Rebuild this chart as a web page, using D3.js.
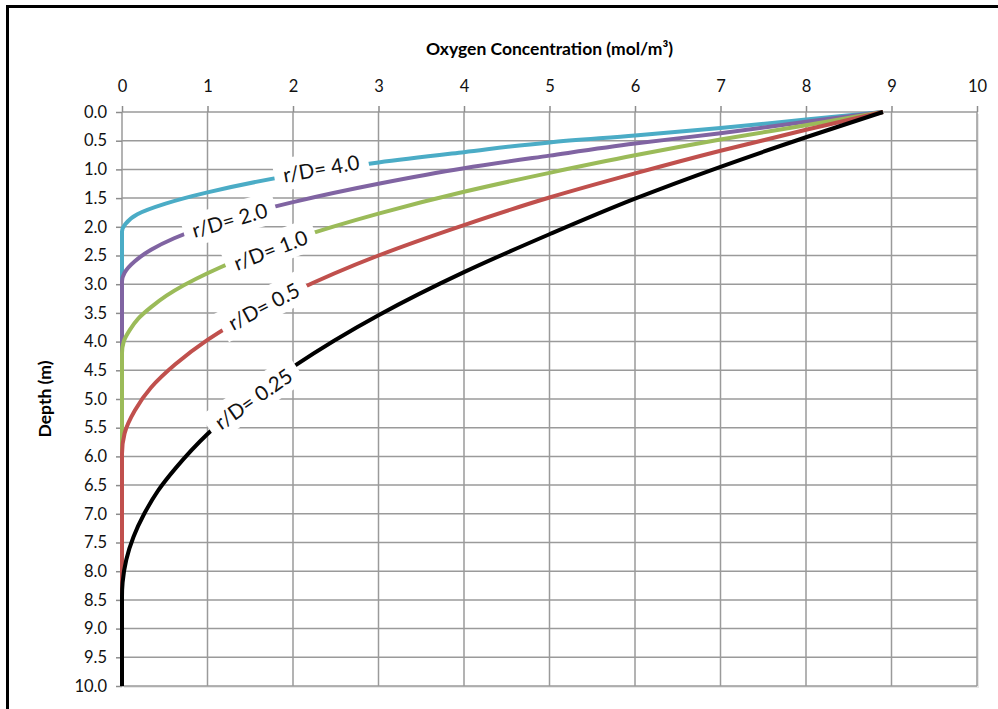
<!DOCTYPE html>
<html>
    <head>
        <meta charset="utf-8">
        <title>Oxygen profiles</title>
        <style>
body {
    margin: 0;
    background-color: white;
    font-family: 'Lato', sans-serif;
}

.grid line {
    stroke: #9a9a9a;
    stroke-width: 1.5;
}

.axis path {
    display: none;
}

.axis line {
    stroke: #8c8c8c;
    stroke-width: 1.5;
}

.axis text {
    font-family: 'Lato', sans-serif;
    font-size: 16.5px;
    fill: #111;
}

.curve {
    fill: none;
    stroke-width: 4;
}

.curveLabel text {
    font-size: 20.5px;
    fill: #111;
}

</style>
        <script src="https://cdn.jsdelivr.net/npm/d3@7"></script>
    </head>
    <body>
        <script>
// ticks
var concTicks = [0, 1, 2, 3, 4, 5, 6, 7, 8, 9, 10];
var depthTicks = [0.0, 0.5, 1.0, 1.5, 2.0, 2.5, 3.0, 3.5, 4.0, 4.5, 5.0,
                  5.5, 6.0, 6.5, 7.0, 7.5, 8.0, 8.5, 9.0, 9.5, 10.0];

// curves: depth (m) and oxygen (mol/m3)
var names = ["r/D= 4.0", "r/D= 2.0", "r/D= 1.0", "r/D= 0.5", "r/D= 0.25"];
var colors = ["#4bacc6", "#8064a2", "#9bbb59", "#c0504d", "#000000"];

var depth40 = [0, 0.13, 0.28, 0.41, 0.53, 0.70, 0.88, 1.10, 1.40, 1.60, 1.78, 1.95, 2.08, 10];
var conc40  = [8.9, 8.0, 7.0, 6.0, 5.0, 4.0, 3.0, 2.0, 1.0, 0.5, 0.18, 0.04, 0, 0];

var depth20 = [0, 0.17, 0.37, 0.55, 0.76, 0.98, 1.25, 1.57, 1.98, 2.20, 2.40, 2.60, 2.80, 2.95, 10];
var conc20  = [8.9, 8.0, 7.0, 6.0, 5.0, 4.0, 3.0, 2.0, 1.0, 0.61, 0.34, 0.15, 0.03, 0, 0];

var depth10 = [0, 0.23, 0.48, 0.755, 1.06, 1.39, 1.77, 2.22, 2.81, 3.20, 3.40, 3.60, 3.80, 4.00, 4.20, 10];
var conc10  = [8.9, 8.0, 7.0, 6.0, 5.0, 4.0, 3.0, 2.0, 1.0, 0.52, 0.34, 0.19, 0.09, 0.02, 0, 0];

var depth05 = [0, 0.31, 0.675, 1.07, 1.49, 1.97, 2.50, 3.14, 3.97, 4.40, 4.80, 5.20, 5.60, 5.95, 10];
var conc05  = [8.9, 8.0, 7.0, 6.0, 5.0, 4.0, 3.0, 2.0, 1.0, 0.62, 0.34, 0.15, 0.03, 0, 0];

var depth025 = [0, 0.44, 0.955, 1.51, 2.13, 2.79, 3.54, 4.44, 5.61, 6.20, 6.60, 7.00, 7.40, 7.80, 8.20, 8.44, 10];
var conc025  = [8.9, 8.0, 7.0, 6.0, 5.0, 4.0, 3.0, 2.0, 1.0, 0.63, 0.42, 0.26, 0.135, 0.05, 0.007, 0, 0];

// where each curve label sits (conc, depth) and its tilt
var labelConc = [2.33, 1.26, 1.74, 1.66, 1.54];
var labelDepth = [0.99, 1.89, 2.41, 3.39, 5.0];
var labelTilt = [-10, -16, -21, -28, -35];

var width = 998,
    height = 709;

var margin = {left: 122, right: 21, top: 112, bottom: 23};

var svg = d3.select('body')
    .append('svg')
    .attr('width', width)
    .attr('height', height);

// outer frame
svg.append('rect')
    .attr('x', 7.5)
    .attr('y', 6.5)
    .attr('width', 1100)
    .attr('height', 800)
    .attr('fill', 'none')
    .attr('stroke', 'black')
    .attr('stroke-width', 3);

var x = d3.scaleLinear()
    .domain([0, 10])
    .range([margin.left, width - margin.right]);

var y = d3.scaleLinear()
    .domain([0, 10])
    .range([margin.top, height - margin.bottom]);

// faint shadow of the plot area
svg.append('rect')
    .attr('x', x(0) + 2)
    .attr('y', y(0) + 2)
    .attr('width', x(10) - x(0))
    .attr('height', y(10) - y(0))
    .attr('fill', '#e8e8e8');
svg.append('rect')
    .attr('x', x(0))
    .attr('y', y(0))
    .attr('width', x(10) - x(0))
    .attr('height', y(10) - y(0))
    .attr('fill', 'white');

var grid = svg.append('g').attr('class', 'grid');

grid.selectAll('.v')
    .data(concTicks)
    .enter().append('line')
    .attr('x1', function (d) { return x(d); })
    .attr('x2', function (d) { return x(d); })
    .attr('y1', y(0))
    .attr('y2', y(10));

grid.selectAll('.h')
    .data(depthTicks)
    .enter().append('line')
    .attr('x1', x(0))
    .attr('x2', x(10))
    .attr('y1', function (d) { return y(d); })
    .attr('y2', function (d) { return y(d); });

var xAxis = svg.append('g')
    .attr('class', 'axis')
    .attr('transform', 'translate(0,' + y(0) + ')')
    .call(d3.axisTop(x).tickValues(concTicks).tickSize(6).tickPadding(14).tickFormat(d3.format('d')));

var yAxis = svg.append('g')
    .attr('class', 'axis')
    .attr('transform', 'translate(' + x(0) + ',0)')
    .call(d3.axisLeft(y).tickValues(depthTicks).tickSize(6).tickPadding(9).tickFormat(d3.format('.1f')));

svg.append('text')
    .attr('x', (x(0) + x(10)) / 2)
    .attr('y', 55)
    .attr('text-anchor', 'middle')
    .style('font-size', '17.5px')
    .style('font-weight', 'bold')
    .text('Oxygen Concentration (mol/m\u00b3)');

svg.append('text')
    .attr('transform', 'translate(51,' + y(5) + ') rotate(-90)')
    .attr('text-anchor', 'middle')
    .style('font-size', '17.5px')
    .style('font-weight', 'bold')
    .text('Depth (m)');

var depths = [depth40, depth20, depth10, depth05, depth025];
var concs = [conc40, conc20, conc10, conc05, conc025];

var line = d3.line()
    .x(function (d) { return x(d[1]); })
    .y(function (d) { return y(d[0]); })
    .curve(d3.curveMonotoneY);

depths.forEach(function (ds, k) {
    var pts = ds.map(function (d, i) { return [d, concs[k][i]]; });
    svg.append('path')
        .attr('class', 'curve')
        .attr('d', line(pts))
        .attr('stroke', colors[k]);
});

// labels with white boxes laid over the curves
names.forEach(function (name, k) {
    var g = svg.append('g')
        .attr('class', 'curveLabel')
        .attr('transform', 'translate(' + x(labelConc[k]) + ',' + y(labelDepth[k]) + ') rotate(' + labelTilt[k] + ')');
    var box = g.append('rect').attr('fill', 'white');
    var t = g.append('text')
        .attr('text-anchor', 'middle')
        .attr('dy', '0.35em')
        .text(name);
    var bb = t.node().getBBox();
    box.attr('x', bb.x - 9)
        .attr('y', bb.y - 4)
        .attr('width', bb.width + 18)
        .attr('height', bb.height + 8);
});

        </script>
    </body>
</html>
